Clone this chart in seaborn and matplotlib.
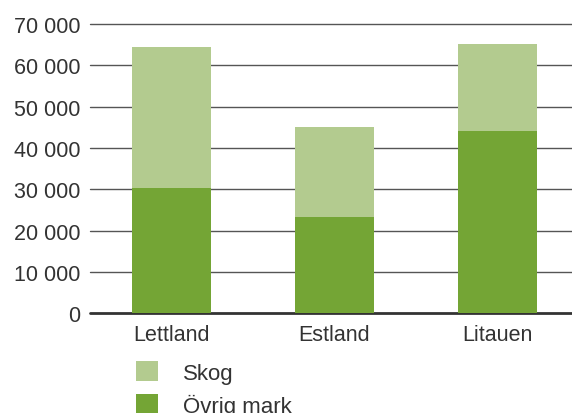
import matplotlib
matplotlib.use("Agg")
import matplotlib.pyplot as plt
import seaborn as sns
import pandas as pd
from matplotlib.patches import Patch
from matplotlib.ticker import FuncFormatter

countries = ["Lettland", "Estland", "Litauen"]
ovrig_mark = [30300, 23300, 44100]
skog = [34100, 21800, 21100]
yticks = [0, 10000, 20000, 30000, 40000, 50000, 60000, 70000]

light = "#b3cb8f"
dark = "#74a535"
txt = "#333333"

sns.set_theme(style="white")
plt.rcParams["font.family"] = ["Liberation Sans", "DejaVu Sans"]

df = pd.DataFrame({"land": countries, "ovrig": ovrig_mark, "skog": skog})
df["total"] = df["ovrig"] + df["skog"]

W, H = 572, 414
fig = plt.figure(figsize=(W / 100, H / 100), dpi=100)
ax = fig.add_axes([90 / W, 1 - 314.3 / H, 1 - 90 / W, (314.3 - 25) / H])

for y in yticks:
    ax.axhline(y, color="#555555" if y else "#333333", lw=1.0 if y else 2.0, zorder=0, clip_on=False)

sns.barplot(data=df, x="land", y="total", color=light, width=0.485, ax=ax,
            saturation=1, zorder=2, linewidth=0)
sns.barplot(data=df, x="land", y="ovrig", color=dark, width=0.485, ax=ax,
            saturation=1, zorder=3, linewidth=0)

ax.set_ylim(0, 70000)
ax.set_xlim(-0.5, 2.457)
ax.set_yticks(yticks)
ax.yaxis.set_major_formatter(FuncFormatter(lambda v, p: f"{int(v):,}".replace(",", " ")))
ax.tick_params(axis="y", length=0, pad=7, labelsize=15.5, labelcolor=txt)
ax.tick_params(axis="x", length=0, pad=8, labelsize=15.5, labelcolor=txt)
ax.set_xlabel("")
ax.set_ylabel("")
for s in ax.spines.values():
    s.set_visible(False)

handles = [Patch(facecolor=light, edgecolor="none", label="Skog"),
           Patch(facecolor=dark, edgecolor="none", label="Övrig mark")]
fig.legend(handles=handles, loc="upper left",
           bbox_to_anchor=(136 / W, 1 - 362 / H), frameon=False,
           fontsize=16, handlelength=1.0, handleheight=1.0,
           handletextpad=1.1, labelspacing=0.45, borderpad=0,
           borderaxespad=0, labelcolor=txt)

fig.savefig("out.png", dpi=100)
